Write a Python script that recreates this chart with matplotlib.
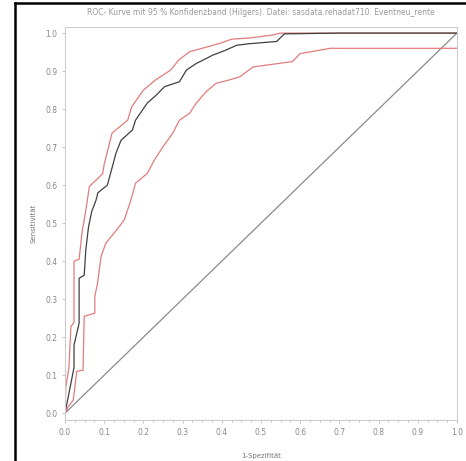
import matplotlib
matplotlib.use("Agg")
import matplotlib.pyplot as plt
from matplotlib.lines import Line2D
from matplotlib.ticker import MultipleLocator

title = "ROC- Kurve mit 95 % Konfidenzband (Hilgers). Datei: sasdata.rehadat710. Eventneu_rente"
xlabel = "1-Spezifität"
ylabel = "Sensitivität"

# ROC curve (1-spec, sens)
roc_x = [0, 0.023, 0.023, 0.036, 0.036, 0.049, 0.053, 0.06, 0.068, 0.079, 0.084, 0.108,
         0.116, 0.13, 0.143, 0.172, 0.18, 0.21, 0.232, 0.254, 0.292, 0.31, 0.335, 0.377,
         0.41, 0.438, 0.47, 0.54, 0.56, 0.7, 1.0]
roc_y = [0, 0.12, 0.179, 0.237, 0.355, 0.363, 0.429, 0.49, 0.53, 0.56, 0.58, 0.6,
         0.63, 0.684, 0.718, 0.745, 0.771, 0.816, 0.836, 0.859, 0.872, 0.903, 0.92, 0.942,
         0.955, 0.968, 0.972, 0.978, 0.998, 1.0, 1.0]

# upper confidence band
up_x = [0, 0.002, 0.01, 0.015, 0.023, 0.023, 0.036, 0.044, 0.049, 0.057, 0.062, 0.096,
        0.10, 0.12, 0.16, 0.17, 0.2, 0.23, 0.27, 0.29, 0.318, 0.35, 0.395, 0.425, 0.47,
        0.53, 0.55, 1.0]
up_y = [0, 0.069, 0.12, 0.227, 0.24, 0.40, 0.405, 0.48, 0.508, 0.56, 0.596, 0.63,
        0.655, 0.737, 0.771, 0.806, 0.85, 0.876, 0.903, 0.929, 0.951, 0.96, 0.973, 0.984, 0.987,
        0.995, 1.0, 1.0]

# lower confidence band
lo_x = [0, 0.01, 0.021, 0.03, 0.046, 0.049, 0.076, 0.076, 0.083, 0.092, 0.104, 0.13,
        0.151, 0.168, 0.18, 0.21, 0.228, 0.25, 0.275, 0.292, 0.318, 0.335, 0.36, 0.386,
        0.42, 0.446, 0.48, 0.58, 0.60, 0.677, 1.0]
lo_y = [0, 0.02, 0.034, 0.11, 0.113, 0.255, 0.263, 0.307, 0.342, 0.412, 0.447, 0.48,
        0.508, 0.56, 0.605, 0.631, 0.666, 0.701, 0.737, 0.771, 0.789, 0.816, 0.846, 0.868,
        0.877, 0.885, 0.911, 0.925, 0.946, 0.96, 0.96]

diag = [0, 1]

fig = plt.figure(figsize=(4.66, 4.61), dpi=100)
ax = fig.add_axes([0.1395, 0.0889, 0.841, 0.8525])

ax.plot(diag, diag, color="#8a8a8a", lw=0.9)
ax.plot(up_x, up_y, color="#e27b7b", lw=0.9)
ax.plot(lo_x, lo_y, color="#e27b7b", lw=0.9)
ax.plot(roc_x, roc_y, color="#404040", lw=0.9)

ax.set_xlim(0, 1.0)
ax.set_ylim(-0.018, 1.016)
ax.xaxis.set_major_locator(MultipleLocator(0.1))
ax.xaxis.set_minor_locator(MultipleLocator(0.025))
ax.yaxis.set_major_locator(MultipleLocator(0.1))
ax.tick_params(axis="both", which="both", colors="#bbbbbb", labelcolor="#888888",
               labelsize=5.5, length=2, width=0.6)
ax.tick_params(axis="x", which="minor", length=1.5)
for s in ax.spines.values():
    s.set_color("#cccccc")
    s.set_linewidth(0.8)

ax.set_xlabel(xlabel, fontsize=5, color="#777777", labelpad=12)
ax.set_ylabel(ylabel, fontsize=5, color="#777777", labelpad=6)
fig.text(0.56, 0.973, title, fontsize=5.5, color="#999999", ha="center", va="center")

# black frame pieces at the left and top
fig.add_artist(Line2D([15 / 466, 15 / 466], [0, 458 / 461], color="black", lw=1.8))
fig.add_artist(Line2D([15 / 466, 1], [458 / 461, 458 / 461], color="black", lw=1.8))

fig.savefig("out.png", dpi=100, facecolor="white")
